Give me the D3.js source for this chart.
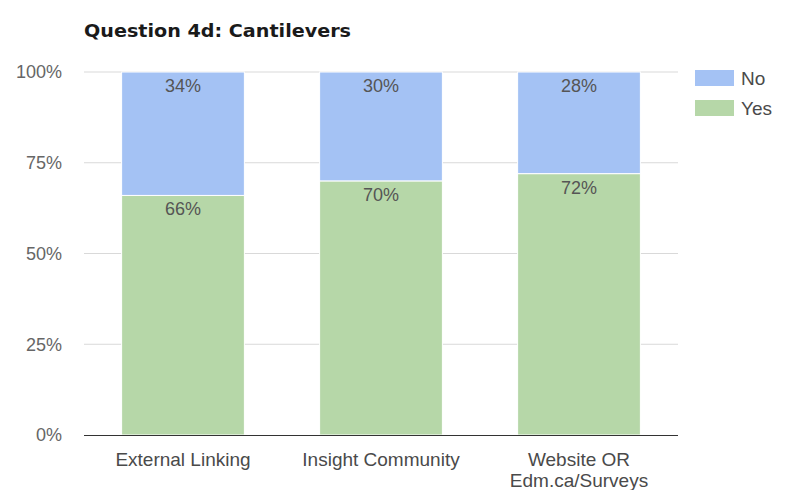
<!DOCTYPE html>
<html><head><meta charset="utf-8">
<script src="https://cdn.jsdelivr.net/npm/d3@7"></script>
<style>body{margin:0;background:#fff;}svg{display:block;font-family:"Liberation Sans",Arial,sans-serif;}</style>
</head><body>
<svg id="c" width="797" height="490"></svg>
<script>
const title = "Question 4d: Cantilevers";
const categories = [["External Linking"], ["Insight Community"], ["Website OR", "Edm.ca/Surveys"]];
const seriesNames = ["Yes", "No"];
const yesValues = [66, 70, 72];
const noValues = [34, 30, 28];
const yTicks = [0, 25, 50, 75, 100];
const colors = {Yes: "#b6d7a8", No: "#a4c2f4"};

const svg = d3.select("#c");
const m = {l: 84, r: 678, t: 72, b: 435};
const x = d3.scaleBand().domain(d3.range(categories.length)).range([m.l, m.r]).paddingInner(0.38).paddingOuter(0.19);
const y = d3.scaleLinear().domain([0, 100]).range([m.b, m.t]);

svg.append("text").attr("x", 84).attr("y", 37).attr("font-size", 18).attr("font-weight", "bold")
  .attr("font-family", "'DejaVu Sans',sans-serif").attr("textLength", 267).attr("lengthAdjust", "spacingAndGlyphs")
  .attr("fill", "#1a1a1a").text(title);

// gridlines
svg.append("g").selectAll("line").data(yTicks.filter(d => d > 0)).join("line")
  .attr("x1", m.l).attr("x2", m.r).attr("y1", d => y(d)).attr("y2", d => y(d))
  .attr("stroke", "#d9d9d9").attr("stroke-width", 1);

// y tick labels
svg.append("g").selectAll("text").data(yTicks).join("text")
  .attr("x", 62).attr("y", d => y(d)).attr("dy", "0.35em").attr("text-anchor", "end")
  .attr("font-size", 18).attr("fill", "#666").text(d => d + "%");

const stackData = categories.map((c, i) => ({i, Yes: yesValues[i], No: noValues[i]}));
const stack = d3.stack().keys(seriesNames)(stackData);

const g = svg.append("g");
stack.forEach(layer => {
  g.append("g").selectAll("rect").data(layer).join("rect")
    .attr("x", d => x(d.data.i)).attr("width", x.bandwidth())
    .attr("y", d => y(d[1])).attr("height", d => y(d[0]) - y(d[1]))
    .attr("fill", colors[layer.key]).attr("stroke", "#fff").attr("stroke-width", 1);
  g.append("g").selectAll("text").data(layer).join("text")
    .attr("x", d => x(d.data.i) + x.bandwidth() / 2).attr("y", d => y(d[1]) + 20)
    .attr("text-anchor", "middle").attr("font-size", 18).attr("fill", "#555")
    .text(d => (d[1] - d[0]) + "%");
});

// axis line
svg.append("line").attr("x1", m.l).attr("x2", m.r).attr("y1", m.b + 0.5).attr("y2", m.b + 0.5)
  .attr("stroke", "#333").attr("stroke-width", 1.2);

// x labels
const xl = svg.append("g").selectAll("text").data(categories).join("text")
  .attr("x", (d, i) => x(i) + x.bandwidth() / 2).attr("y", 466)
  .attr("text-anchor", "middle").attr("font-size", 19).attr("fill", "#4a4a4a");
xl.each(function(d) {
  d3.select(this).selectAll("tspan").data(d).join("tspan")
    .attr("x", d3.select(this).attr("x")).attr("dy", (t, j) => j === 0 ? 0 : 21).text(t => t);
});

// legend
const legendOrder = ["No", "Yes"];
const lg = svg.append("g").selectAll("g").data(legendOrder).join("g")
  .attr("transform", (d, i) => `translate(695,${70 + i * 30})`);
lg.append("rect").attr("width", 39).attr("height", 16).attr("fill", d => colors[d]);
lg.append("text").attr("x", 46).attr("y", 8).attr("dy", "0.35em").attr("font-size", 19).attr("fill", "#4a4a4a").text(d => d);
</script>
</body></html>
